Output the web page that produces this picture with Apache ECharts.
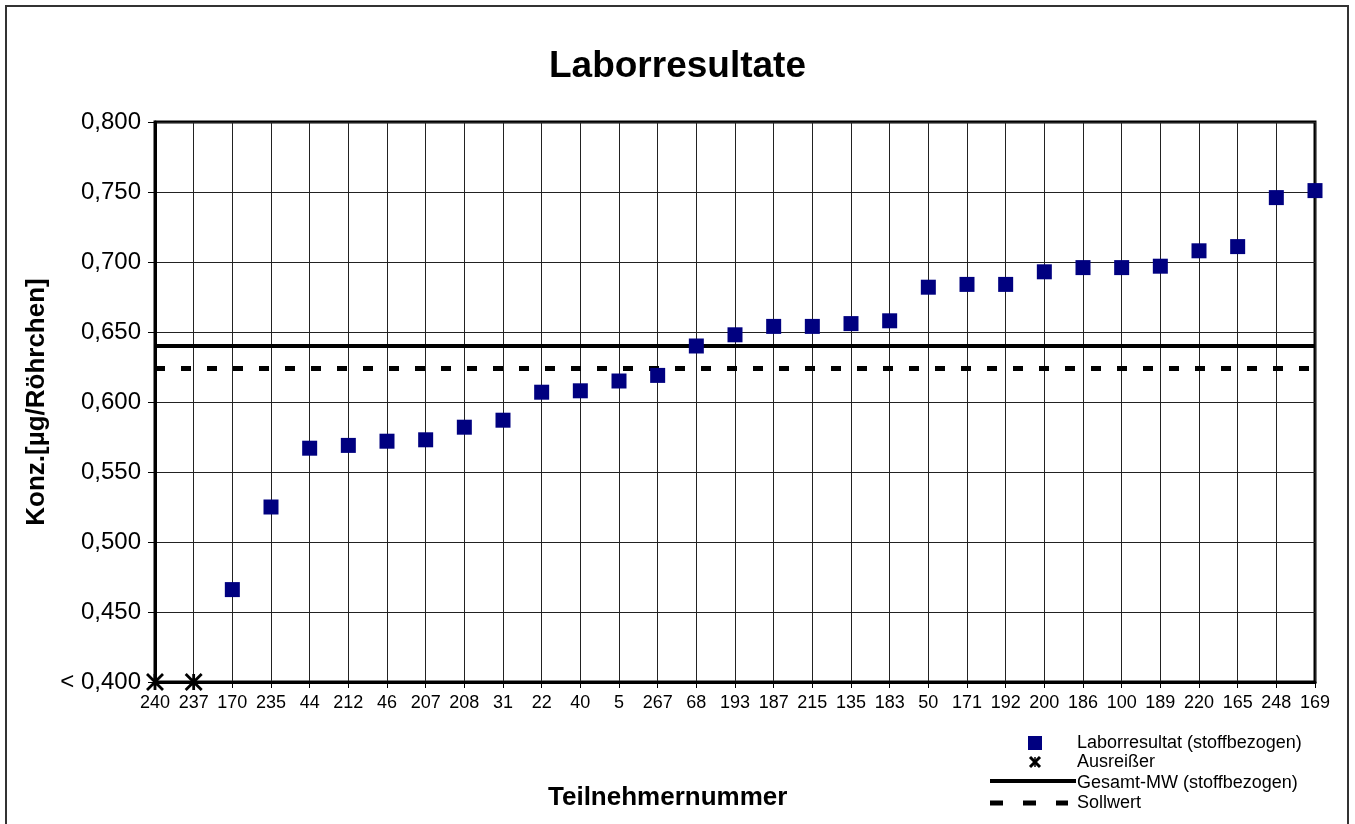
<!DOCTYPE html>
<html>
<head>
<meta charset="utf-8">
<script src="https://cdn.jsdelivr.net/npm/echarts@6/dist/echarts.min.js"></script>
<style>html,body{margin:0;padding:0;background:#fff;}#chart{width:1355px;height:824px;}</style>
</head>
<body>
<div id="chart"></div>
<script>
const categories = ['240','237','170','235','44','212','46','207','208','31','22','40','5','267','68','193','187','215','135','183','50','171','192','200','186','100','189','220','165','248','169'];
const laborresultat = [null,null,0.466,0.525,0.567,0.569,0.572,0.573,0.582,0.587,0.607,0.608,0.615,0.619,0.640,0.648,0.654,0.654,0.656,0.658,0.682,0.684,0.684,0.693,0.696,0.696,0.697,0.708,0.711,0.746,0.751];
const ausreisser = [0.400,0.400,null,null,null,null,null,null,null,null,null,null,null,null,null,null,null,null,null,null,null,null,null,null,null,null,null,null,null,null,null];
const gesamtMW = 0.640;
const sollwert = 0.624;
const yMin = 0.400, yMax = 0.800, yStep = 0.050;

const FONT = '"Liberation Sans", Arial, sans-serif';
const STAR = 'path://M0,0L10,10M10,0L0,10M5,0L5,10';

const chart = echarts.init(document.getElementById('chart'), null, {renderer:'canvas'});
chart.setOption({
  animation: false,
  backgroundColor: '#fff',
  textStyle: {fontFamily: FONT},
  title: [
    {text: 'Laborresultate', left: 'center', top: 43, textStyle: {fontFamily: FONT, fontSize: 37, fontWeight: 'bold', color: '#000'}},
    {text: 'Teilnehmernummer', left: 543, top: 780, textStyle: {fontFamily: FONT, fontSize: 26, fontWeight: 'bold', color: '#000'}}
  ],
  grid: {left: 155, right: 40, top: 122, bottom: 142, show: true, borderColor: '#000', borderWidth: 3, backgroundColor: 'transparent'},
  xAxis: {
    type: 'category', data: categories, boundaryGap: false,
    axisLine: {show: true, lineStyle: {color: '#000', width: 3}},
    axisTick: {show: true, alignWithLabel: true, length: 6, lineStyle: {color: '#000', width: 1}},
    axisLabel: {interval: 0, margin: 12, fontFamily: FONT, fontSize: 18, color: '#000'},
    splitLine: {show: true, interval: 0, lineStyle: {color: '#222', width: 1}}
  },
  yAxis: {
    type: 'value', min: yMin, max: yMax, interval: yStep,
    name: 'Konz.[µg/Röhrchen]', nameLocation: 'middle', nameGap: 102, nameRotate: 90,
    nameTextStyle: {fontFamily: FONT, fontSize: 26, fontWeight: 'bold', color: '#000'},
    axisLine: {show: true, lineStyle: {color: '#000', width: 3}},
    axisTick: {show: true, length: 7, lineStyle: {color: '#000', width: 1}},
    axisLabel: {margin: 14, fontFamily: FONT, fontSize: 24, color: '#000',
      formatter: v => (Math.abs(v - yMin) < 1e-9 ? '< ' : '') + v.toFixed(3).replace('.', ',')},
    splitLine: {show: true, lineStyle: {color: '#222', width: 1}}
  },
  series: [
    {name: 'Gesamt-MW (stoffbezogen)', type: 'line', data: [], silent: true,
      markLine: {silent: true, symbol: 'none', precision: 4, label: {show: false},
        lineStyle: {color: '#000', width: 4, type: 'solid', opacity: 1}, data: [{yAxis: gesamtMW}]}},
    {name: 'Sollwert', type: 'line', data: [], silent: true,
      markLine: {silent: true, symbol: 'none', precision: 4, label: {show: false},
        lineStyle: {color: '#000', width: 5, type: [10, 16], opacity: 1}, data: [{yAxis: sollwert}]}},
    {name: 'Laborresultat (stoffbezogen)', type: 'scatter', data: laborresultat, symbol: 'rect', symbolSize: 15,
      itemStyle: {color: '#000080', opacity: 1}, z: 5},
    {name: 'Ausreißer', type: 'scatter', data: ausreisser, symbol: STAR, symbolSize: 16, clip: false,
      itemStyle: {color: 'none', borderColor: '#000', borderWidth: 2.8, opacity: 1}, z: 6}
  ],
  graphic: [
    {type: 'rect', shape: {x: 6, y: 6, width: 1342, height: 830}, style: {fill: 'none', stroke: '#333', lineWidth: 2}, silent: true},
    {type: 'rect', shape: {x: 1028, y: 736, width: 14, height: 14}, style: {fill: '#000080'}},
    {type: 'text', x: 1077, y: 743, style: {text: 'Laborresultat (stoffbezogen)', fontFamily: FONT, fontSize: 18, fill: '#000', verticalAlign: 'middle'}},
    {type: 'line', shape: {x1: 1030, y1: 757, x2: 1040, y2: 767}, style: {stroke: '#000', lineWidth: 3}},
    {type: 'line', shape: {x1: 1040, y1: 757, x2: 1030, y2: 767}, style: {stroke: '#000', lineWidth: 3}},
    {type: 'line', shape: {x1: 1035, y1: 757, x2: 1035, y2: 767}, style: {stroke: '#000', lineWidth: 1.5}},
    {type: 'text', x: 1077, y: 762, style: {text: 'Ausreißer', fontFamily: FONT, fontSize: 18, fill: '#000', verticalAlign: 'middle'}},
    {type: 'line', shape: {x1: 990, y1: 781, x2: 1076, y2: 781}, style: {stroke: '#000', lineWidth: 4}},
    {type: 'text', x: 1077, y: 783, style: {text: 'Gesamt-MW (stoffbezogen)', fontFamily: FONT, fontSize: 18, fill: '#000', verticalAlign: 'middle'}},
    {type: 'line', shape: {x1: 990, y1: 803, x2: 1068, y2: 803}, style: {stroke: '#000', lineWidth: 5, lineDash: [13, 20]}},
    {type: 'text', x: 1077, y: 803, style: {text: 'Sollwert', fontFamily: FONT, fontSize: 18, fill: '#000', verticalAlign: 'middle'}}
  ]
});
</script>
</body>
</html>
